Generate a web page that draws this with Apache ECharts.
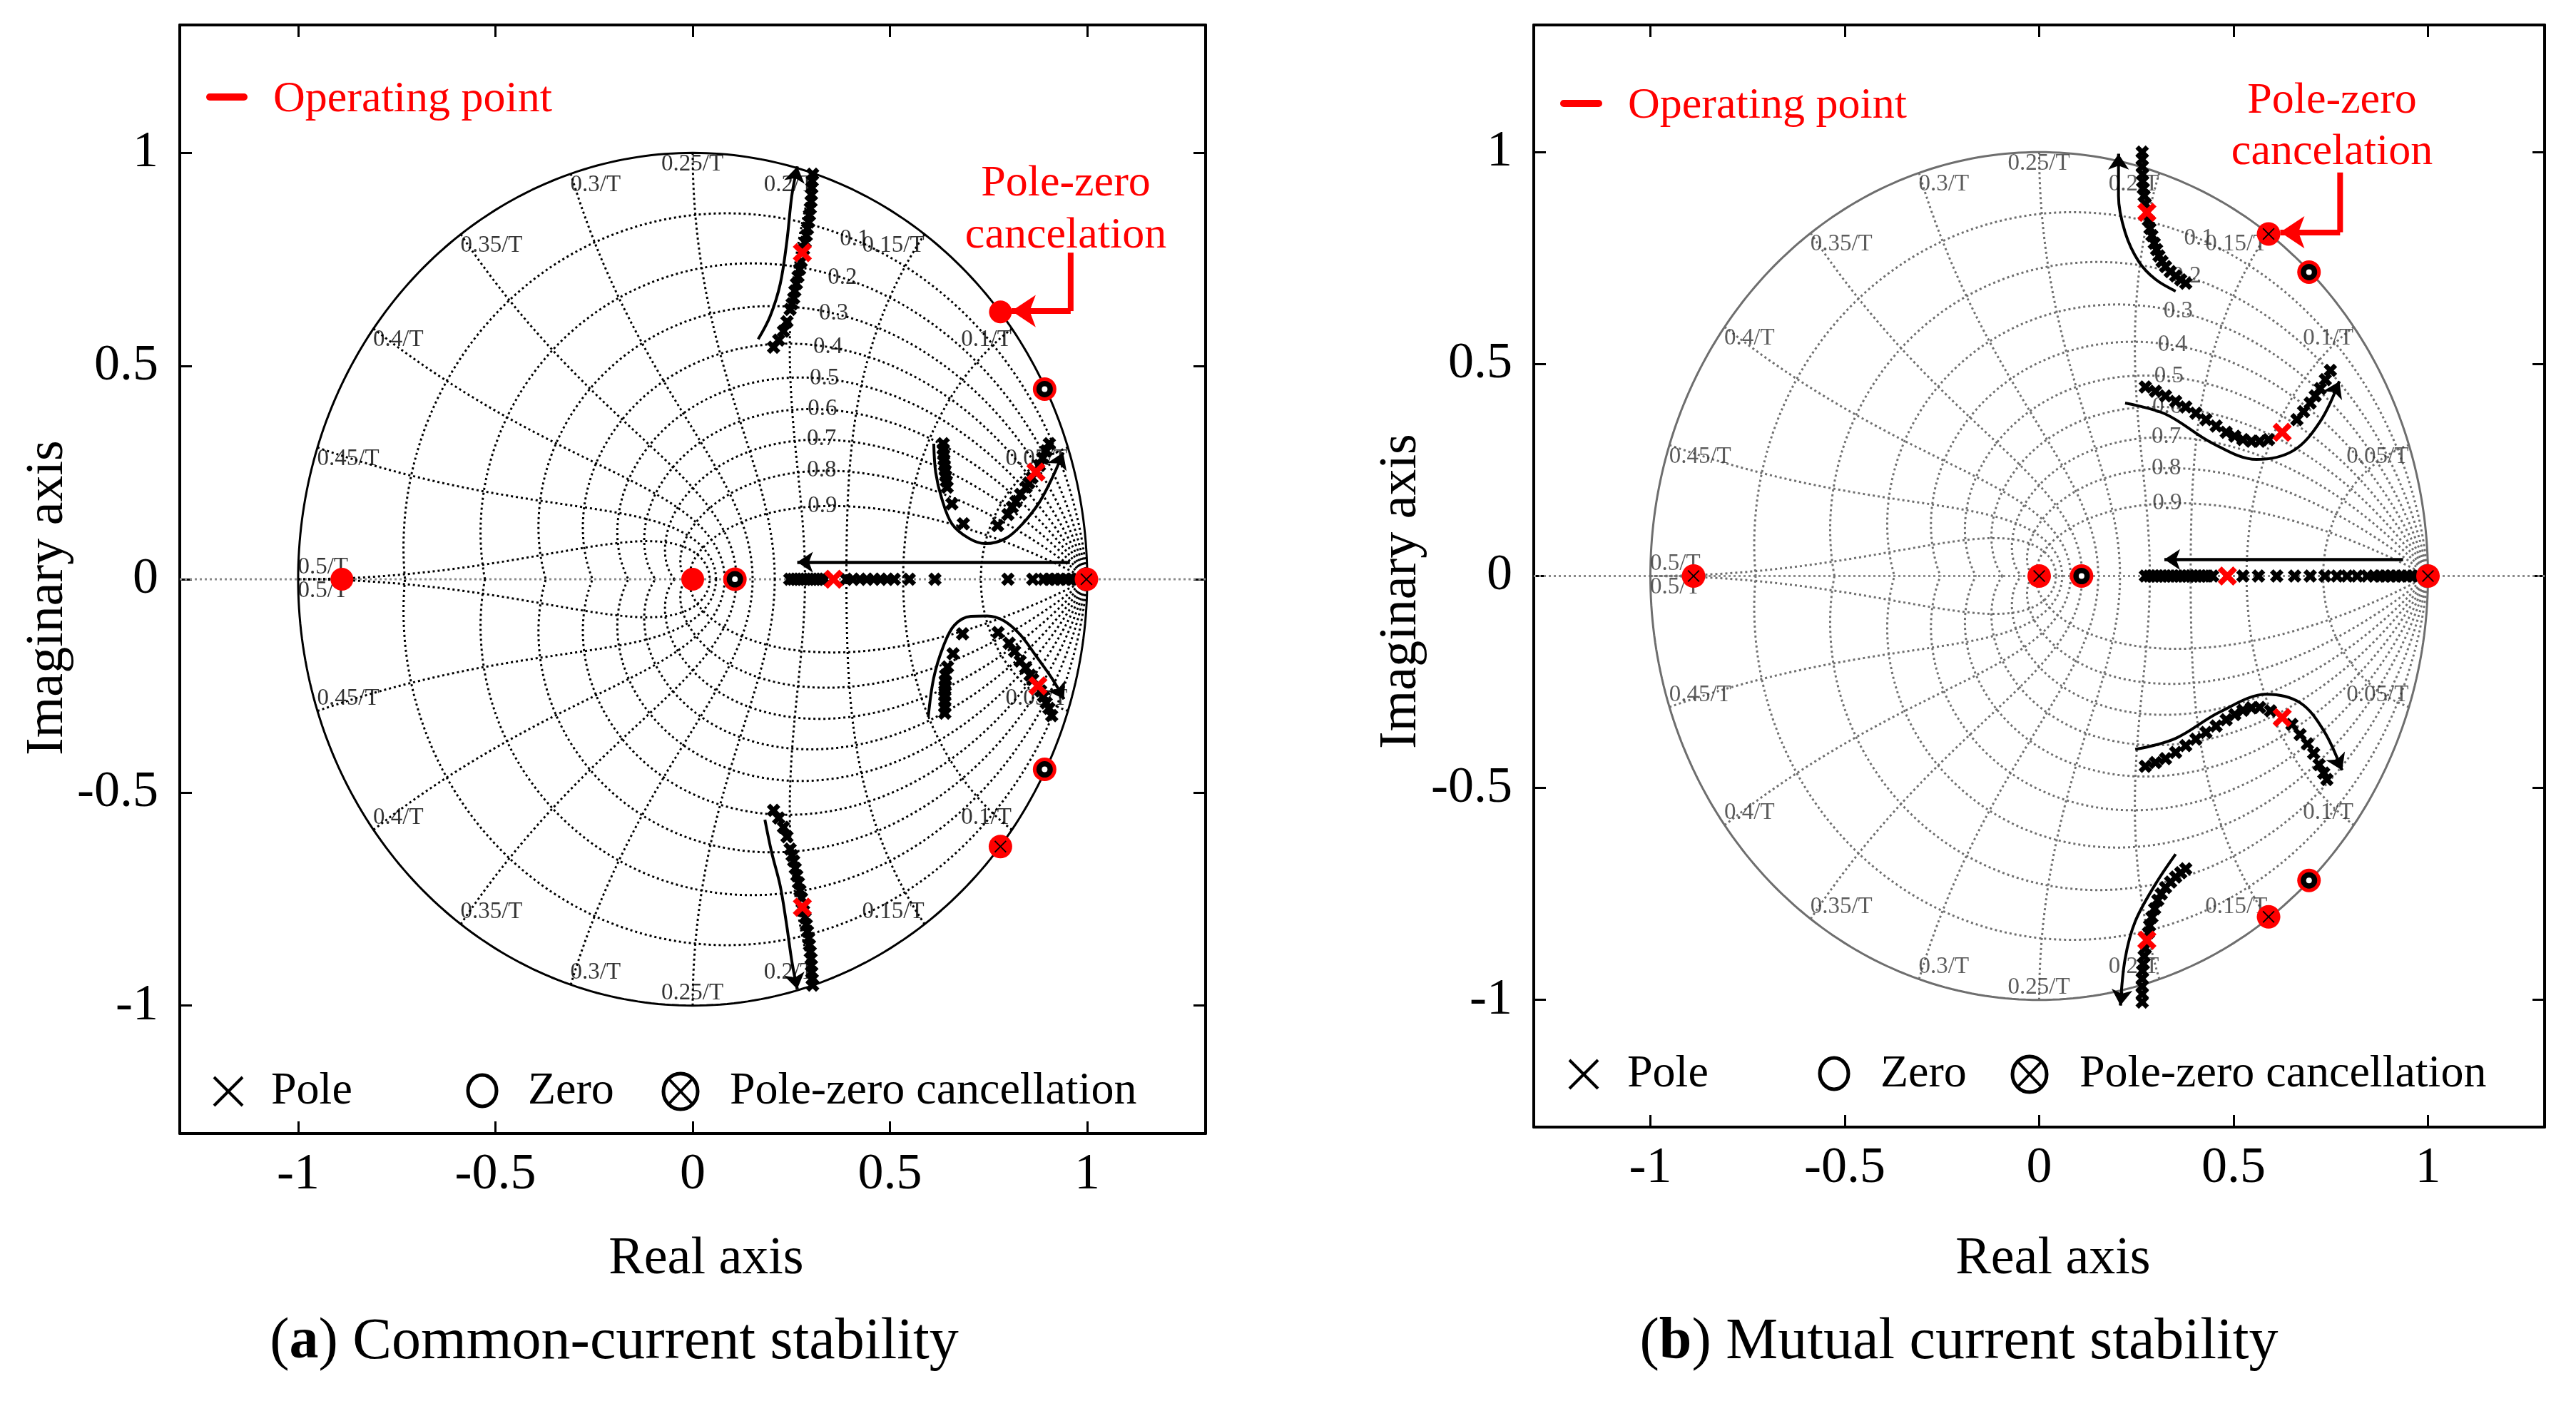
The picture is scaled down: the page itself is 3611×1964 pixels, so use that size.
<!DOCTYPE html>
<html><head><meta charset="utf-8">
<script src="https://cdn.jsdelivr.net/npm/echarts@6/dist/echarts.min.js"></script>
<style>html,body{margin:0;padding:0;background:#fff}#c{width:3611px;height:1964px}</style>
</head><body><div id="c"></div>
<script>
// ---------------- tick values & grid (zgrid) values ----------------
const xTicks = [-1, -0.5, 0, 0.5, 1];
const yTicks = [-1, -0.5, 0, 0.5, 1];
const dampTicks = [0.1, 0.2, 0.3, 0.4, 0.5, 0.6, 0.7, 0.8, 0.9];
const freqTicks = [0.05, 0.1, 0.15, 0.2, 0.25, 0.3, 0.35, 0.4, 0.45, 0.5];

// ---------------- panel (a) data ----------------
const aRealAxisPoles = [0.246,0.254,0.262,0.270,0.278,0.286,0.294,0.302,0.310,0.318,0.326,0.334,0.389,0.406,0.424,0.441,0.459,0.476,0.493,0.511,0.549,0.614,0.799,0.862,0.890,0.904,0.918,0.932,0.946,0.960,0.973,0.987];
const aUpperBranch = [[0.304,0.950],[0.303,0.934],[0.302,0.918],[0.301,0.902],[0.300,0.886],[0.298,0.870],[0.296,0.854],[0.294,0.838],[0.291,0.822],[0.288,0.806],[0.285,0.790],[0.281,0.774],[0.275,0.745],[0.271,0.727],[0.267,0.710],[0.263,0.693],[0.259,0.676],[0.256,0.659],[0.252,0.646],[0.247,0.633],[0.239,0.604],[0.230,0.582],[0.218,0.561],[0.205,0.544]];
const aLowerBranch = [[0.205,-0.542],[0.218,-0.560],[0.230,-0.582],[0.239,-0.604],[0.247,-0.633],[0.252,-0.648],[0.256,-0.661],[0.260,-0.678],[0.264,-0.695],[0.268,-0.712],[0.272,-0.730],[0.276,-0.748],[0.281,-0.778],[0.285,-0.794],[0.288,-0.810],[0.291,-0.826],[0.294,-0.842],[0.296,-0.858],[0.298,-0.874],[0.300,-0.890],[0.301,-0.906],[0.302,-0.922],[0.303,-0.938],[0.304,-0.952]];
const aUpperLoop = [[0.635,0.318],[0.635,0.305],[0.636,0.292],[0.637,0.280],[0.638,0.267],[0.640,0.255],[0.641,0.242],[0.643,0.230],[0.645,0.216],[0.657,0.177],[0.686,0.130],[0.773,0.126],[0.799,0.152],[0.810,0.169],[0.819,0.182],[0.831,0.199],[0.845,0.216],[0.852,0.226],[0.860,0.238],[0.879,0.267],[0.887,0.284],[0.896,0.301],[0.904,0.318]];
const aLowerLoop = [[0.639,-0.314],[0.639,-0.300],[0.639,-0.287],[0.639,-0.274],[0.639,-0.262],[0.640,-0.250],[0.640,-0.238],[0.641,-0.225],[0.646,-0.206],[0.660,-0.175],[0.684,-0.128],[0.774,-0.125],[0.802,-0.150],[0.816,-0.169],[0.830,-0.192],[0.844,-0.208],[0.855,-0.225],[0.862,-0.235],[0.882,-0.262],[0.889,-0.275],[0.896,-0.290],[0.903,-0.303],[0.910,-0.320]];
const aUpperPath = [[0.166,0.563],[0.196,0.616],[0.222,0.693],[0.239,0.795],[0.251,0.898],[0.265,0.968]];
const aLowerPath = [[0.183,-0.564],[0.200,-0.640],[0.222,-0.720],[0.238,-0.810],[0.252,-0.900],[0.265,-0.961]];
const aUpperLoopPath = [[0.611,0.318],[0.616,0.250],[0.631,0.190],[0.657,0.130],[0.700,0.096],[0.742,0.0835],[0.794,0.096],[0.836,0.130],[0.879,0.181],[0.913,0.241],[0.939,0.297]];
const aLowerLoopPath = [[0.597,-0.323],[0.611,-0.231],[0.635,-0.158],[0.663,-0.108],[0.705,-0.087],[0.746,-0.086],[0.788,-0.097],[0.830,-0.130],[0.871,-0.181],[0.913,-0.236],[0.941,-0.281]];
const aRealArrow = [[0.956,0.040],[0.265,0.040]];
const aOperatingPoles = [[0.357,0],[0.870,0.2515],[0.875,-0.250],[0.278,0.766],[0.278,-0.769]];
const aMarkedPoints = [[-0.889,0],[0,0],[0.780,0.627]];
const aCancellations = [[0.780,-0.627],[0.998,0]];
const aZeros = [[0.107,0],[0.892,0.446],[0.892,-0.446]];
const aCancelArrow = [[0.958,0.766],[0.958,0.629],[0.808,0.629]];

// ---------------- panel (b) data ----------------
const bRealAxisPoles = [0.273,0.283,0.293,0.303,0.313,0.323,0.333,0.343,0.353,0.363,0.373,0.383,0.393,0.403,0.413,0.423,0.433,0.446,0.524,0.564,0.611,0.657,0.697,0.735,0.766,0.792,0.818,0.844,0.862,0.876,0.890,0.904,0.918,0.932,0.946,0.960,0.974,0.988];
const bUpperBranch = [[0.265,1.000],[0.265,0.983],[0.265,0.966],[0.266,0.948],[0.266,0.931],[0.268,0.914],[0.270,0.897],[0.273,0.878],[0.281,0.839],[0.285,0.820],[0.290,0.803],[0.296,0.785],[0.302,0.770],[0.308,0.755],[0.316,0.742],[0.325,0.730],[0.337,0.718],[0.351,0.708],[0.364,0.699],[0.377,0.691]];
const bLowerBranch = [[0.377,-0.691],[0.364,-0.700],[0.351,-0.710],[0.338,-0.722],[0.325,-0.735],[0.314,-0.750],[0.305,-0.765],[0.297,-0.785],[0.290,-0.805],[0.284,-0.825],[0.281,-0.842],[0.273,-0.878],[0.270,-0.897],[0.268,-0.915],[0.266,-0.932],[0.265,-0.950],[0.265,-0.968],[0.265,-0.986],[0.265,-1.005]];
const bUpperLoop = [[0.273,0.446],[0.299,0.436],[0.325,0.425],[0.351,0.412],[0.377,0.399],[0.403,0.384],[0.429,0.369],[0.455,0.354],[0.481,0.339],[0.503,0.330],[0.524,0.322],[0.546,0.318],[0.567,0.318],[0.590,0.322],[0.663,0.369],[0.680,0.388],[0.697,0.408],[0.710,0.425],[0.723,0.442],[0.736,0.463],[0.749,0.485]];
const bLowerLoop = [[0.273,-0.449],[0.299,-0.440],[0.325,-0.431],[0.351,-0.416],[0.377,-0.400],[0.403,-0.385],[0.429,-0.369],[0.455,-0.354],[0.481,-0.339],[0.503,-0.327],[0.524,-0.317],[0.546,-0.311],[0.567,-0.310],[0.595,-0.318],[0.650,-0.350],[0.671,-0.374],[0.690,-0.396],[0.706,-0.418],[0.720,-0.445],[0.732,-0.465],[0.740,-0.480]];
const bUpperPath = [[0.351,0.672],[0.299,0.700],[0.256,0.742],[0.221,0.811],[0.204,0.897],[0.204,0.996]];
const bLowerPath = [[0.351,-0.656],[0.299,-0.727],[0.247,-0.815],[0.221,-0.903],[0.209,-1.013]];
const bUpperLoopPath = [[0.221,0.408],[0.325,0.382],[0.446,0.313],[0.559,0.275],[0.654,0.296],[0.723,0.365],[0.772,0.459]];
const bLowerLoopPath = [[0.247,-0.409],[0.351,-0.383],[0.464,-0.321],[0.585,-0.279],[0.671,-0.299],[0.732,-0.365],[0.779,-0.458]];
const bRealArrow = [[0.936,0.039],[0.322,0.039]];
const bOperatingPoles = [[0.484,0],[0.277,0.858],[0.625,0.339],[0.625,-0.334],[0.277,-0.859]];
const bMarkedPoints = [];
const bCancellations = [[-0.889,0],[0,0],[1.0,0],[0.590,0.807],[0.590,-0.804]];
const bZeros = [[0.109,0],[0.694,0.717],[0.694,-0.718]];
const bCancelArrow = [[0.774,0.952],[0.774,0.811],[0.620,0.811]];

// ---------------- rendering ----------------
const FONT = "'Liberation Serif','Times New Roman',serif";
const RED = '#ff0000';
const XTHICK = 'path://M5,0 L10,5 L15,0 L20,5 L15,10 L20,15 L15,20 L10,15 L5,20 L0,15 L5,10 L0,5 Z';
const XRED = 'path://M4,0 L10,6 L16,0 L20,4 L14,10 L20,16 L16,20 L10,14 L4,20 L0,16 L6,10 L0,4 Z';
const XTHIN = 'path://M1.5,0 L10,8.5 L18.5,0 L20,1.5 L11.5,10 L20,18.5 L18.5,20 L10,11.5 L1.5,20 L0,18.5 L8.5,10 L0,1.5 Z';

const series = [];
function base(p) { return {xAxisIndex: p*2, yAxisIndex: p*2, silent: true, animation: false}; }
function lineS(p, data, style, z, smooth) {
  series.push(Object.assign(base(p), {type:'line', data, showSymbol:false, symbol:'none', smooth: smooth || false, lineStyle: style, z: z}));
}
function scatterS(p, data, symbol, size, color, z) {
  series.push(Object.assign(base(p), {type:'scatter', data, symbol, symbolSize: size, itemStyle:{color, opacity:1}, z: z}));
}
function arrowS(p, from, to, color, width, size, z) {
  series.push(Object.assign(base(p), {type:'lines', coordinateSystem:'cartesian2d', polyline:false,
    symbol:['none','arrow'], symbolSize: size, lineStyle:{color, width, opacity:1, curveness:0},
    data:[{coords:[from, to]}], z: z}));
}
function zgrid(p, gridColor, circleColor, labelColor) {
  lineS(p, [[-1.3,0],[1.3,0]], {color:'#8a8a8a', width:3, type:[3,4]}, 1);
  const circ = [];
  for (let i = 0; i <= 360; i++) { const t = i*Math.PI/180; circ.push([Math.cos(t), Math.sin(t)]); }
  lineS(p, circ, {color: circleColor, width: 3, type:'solid'}, 1);
  const gs = {color: gridColor, width: 3, type:[3,4]};
  dampTicks.forEach(zeta => {
    const m = zeta/Math.sqrt(1 - zeta*zeta), up = [], lo = [];
    for (let i = 0; i <= 240; i++) { const th = Math.PI*i/240, r = Math.exp(-m*th); up.push([r*Math.cos(th), r*Math.sin(th)]); lo.push([r*Math.cos(th), -r*Math.sin(th)]); }
    lineS(p, up, gs, 1);
    lineS(p, lo, gs, 1);
  });
  freqTicks.forEach(f => {
    const wn = 2*Math.PI*f, up = [], lo = [];
    for (let i = 0; i <= 160; i++) { const t = (Math.PI/2)*i/160, r = Math.exp(-wn*Math.sin(t)), a = wn*Math.cos(t); up.push([r*Math.cos(a), r*Math.sin(a)]); lo.push([r*Math.cos(a), -r*Math.sin(a)]); }
    lineS(p, up, gs, 1);
    lineS(p, lo, gs, 1);
  });
  const data = [];
  freqTicks.forEach((f, i) => {
    const k = i + 1, a = 2*Math.PI*f, x = Math.cos(a), y = Math.sin(a);
    const align = k < 5 ? 'right' : (k === 5 ? 'center' : 'left');
    data.push({value:[x, y], name: f + '/T', label:{align, verticalAlign: k === 10 ? 'bottom' : 'top'}});
    data.push({value:[x, -y], name: f + '/T', label:{align, verticalAlign: k === 10 ? 'top' : 'bottom'}});
  });
  dampTicks.forEach(zeta => {
    const w = 0.35*Math.PI, r = Math.exp(-w*zeta), a = w*Math.sqrt(1 - zeta*zeta);
    data.push({value:[r*Math.cos(a), r*Math.sin(a)], name: String(zeta), label:{align:'center', verticalAlign:'middle'}});
  });
  series.push(Object.assign(base(p), {type:'scatter', data, symbol:'circle', symbolSize:1, itemStyle:{color:'rgba(0,0,0,0)'},
    label:{show:true, position:[0,0], formatter:'{b}', fontSize:33, fontFamily:FONT, color: labelColor}, z: 2}));
}
function pathWithArrow(p, path) {
  lineS(p, path, {color:'#000', width:4, type:'solid'}, 3, 0.35);
  const n = path.length, a = path[n-2], b = path[n-1];
  const from = [a[0] + 0.7*(b[0]-a[0]), a[1] + 0.7*(b[1]-a[1])];
  arrowS(p, from, b, '#000', 4, 22, 3);
}
function panel(p, D, gridColor, circleColor, labelColor) {
  zgrid(p, gridColor, circleColor, labelColor);
  D.paths.forEach(path => pathWithArrow(p, path));
  arrowS(p, D.realArrow[0], D.realArrow[1], '#000', 4.5, 22, 3);
  const blackX = D.realPoles.map(x => [x, 0]).concat(D.branches.flat());
  scatterS(p, blackX, XTHICK, 19, '#000', 4);
  scatterS(p, D.marked, 'circle', 32, RED, 5);
  scatterS(p, D.cancel, 'circle', 33, RED, 5);
  scatterS(p, D.cancel, XTHIN, 17, '#000', 6);
  scatterS(p, D.zeros, 'circle', 33, RED, 5);
  scatterS(p, D.zeros, 'circle', 23, '#000', 6);
  scatterS(p, D.zeros, 'circle', 8, '#fff', 7);
  scatterS(p, D.poles, XRED, 27, RED, 8);
  lineS(p, D.cancelArrow.slice(0, 2), {color: RED, width: 8, type:'solid'}, 9);
  arrowS(p, D.cancelArrow[1], D.cancelArrow[2], RED, 8, 34, 9);
}
panel(0, {realPoles: aRealAxisPoles, branches:[aUpperBranch, aLowerBranch, aUpperLoop, aLowerLoop],
  paths:[aUpperPath, aLowerPath, aUpperLoopPath, aLowerLoopPath], realArrow: aRealArrow,
  poles: aOperatingPoles, marked: aMarkedPoints, cancel: aCancellations, zeros: aZeros, cancelArrow: aCancelArrow},
  '#000', '#000', '#000');
panel(1, {realPoles: bRealAxisPoles, branches:[bUpperBranch, bLowerBranch, bUpperLoop, bLowerLoop],
  paths:[bUpperPath, bLowerPath, bUpperLoopPath, bLowerLoopPath], realArrow: bRealArrow,
  poles: bOperatingPoles, marked: bMarkedPoints, cancel: bCancellations, zeros: bZeros, cancelArrow: bCancelArrow},
  '#6f6f6f', '#6e6e6e', '#333');

function xAx(gi, pos, lab) {
  return {type:'value', gridIndex: gi, position: pos, min:-1.3, max:1.3,
    axisLine:{show:true, onZero:false, lineStyle:{color:'#000', width:4}},
    axisTick:{show:true, inside:true, length:17, lineStyle:{color:'#000', width:3}, customValues: xTicks},
    axisLabel:{show: lab, customValues: xTicks, fontSize:72, fontFamily:FONT, color:'#000', margin:22, formatter: v => String(v)},
    splitLine:{show:false}};
}
function yAx(gi, pos, lab) {
  return {type:'value', gridIndex: gi, position: pos, min:-1.3, max:1.3,
    axisLine:{show:true, onZero:false, lineStyle:{color:'#000', width:4}},
    axisTick:{show:true, inside:true, length:17, lineStyle:{color:'#000', width:3}, customValues: yTicks},
    axisLabel:{show: lab, customValues: yTicks, fontSize:72, fontFamily:FONT, color:'#000', margin:30, formatter: v => String(v)},
    splitLine:{show:false}};
}

function txt(x, y, text, size, color, align, extra) {
  return Object.assign({type:'text', x, y, silent:true, style:{text, fontSize:size, fontFamily:FONT, fill:color, align: align || 'center', verticalAlign:'middle'}}, extra || {});
}
function legendBottom(o) {
  const y = o.y, els = [];
  els.push({type:'line', shape:{x1:o.px-20, y1:y-20, x2:o.px+20, y2:y+20}, style:{stroke:'#000', lineWidth:4}});
  els.push({type:'line', shape:{x1:o.px-20, y1:y+20, x2:o.px+20, y2:y-20}, style:{stroke:'#000', lineWidth:4}});
  els.push(txt(o.pt, y, 'Pole', 64, '#000', 'left'));
  els.push({type:'ellipse', shape:{cx:o.zx, cy:y-1, rx:20, ry:22}, style:{stroke:'#000', fill:'none', lineWidth:5}});
  els.push(txt(o.zt, y, 'Zero', 64, '#000', 'left'));
  els.push({type:'ellipse', shape:{cx:o.cx, cy:y, rx:24, ry:25}, style:{stroke:'#000', fill:'none', lineWidth:5}});
  els.push({type:'line', shape:{x1:o.cx-16, y1:y-17, x2:o.cx+16, y2:y+17}, style:{stroke:'#000', lineWidth:4}});
  els.push({type:'line', shape:{x1:o.cx-16, y1:y+17, x2:o.cx+16, y2:y-17}, style:{stroke:'#000', lineWidth:4}});
  els.push(txt(o.ct, y, 'Pole-zero cancellation', 64, '#000', 'left'));
  return els;
}
const graphic = [].concat(
  [
    {type:'line', shape:{x1:294, y1:136, x2:342, y2:136}, style:{stroke:RED, lineWidth:10, lineCap:'round'}},
    txt(383, 140, 'Operating point', 62, RED, 'left'),
    {type:'line', shape:{x1:2192, y1:145, x2:2241, y2:145}, style:{stroke:RED, lineWidth:10, lineCap:'round'}},
    txt(2282, 149, 'Operating point', 62, RED, 'left'),
    txt(1494, 258, 'Pole-zero', 62, RED),
    txt(1494, 331, 'cancelation', 62, RED),
    txt(3269, 142, 'Pole-zero', 62, RED),
    txt(3269, 214, 'cancelation', 62, RED),
    txt(990, 1766, 'Real axis', 74, '#000'),
    txt(2878, 1766, 'Real axis', 74, '#000'),
    txt(68, 838, 'Imaginary axis', 74, '#000', 'center', {rotation: Math.PI/2}),
    txt(1965, 829, 'Imaginary axis', 74, '#000', 'center', {rotation: Math.PI/2}),
    {type:'text', x:861, y:1882, silent:true, style:{text:'{n|(}{b|a}{n|) Common-current stability}', align:'center', verticalAlign:'middle',
      rich:{n:{fontSize:82, fontFamily:FONT, fill:'#000'}, b:{fontSize:82, fontFamily:FONT, fontWeight:'bold', fill:'#000'}}}},
    {type:'text', x:2746, y:1882, silent:true, style:{text:'{n|(}{b|b}{n|) Mutual current stability}', align:'center', verticalAlign:'middle',
      rich:{n:{fontSize:82, fontFamily:FONT, fill:'#000'}, b:{fontSize:82, fontFamily:FONT, fontWeight:'bold', fill:'#000'}}}}
  ],
  legendBottom({y:1530, px:320, pt:380, zx:676, zt:740, cx:954, ct:1023}),
  legendBottom({y:1506, px:2220, pt:2281, zx:2571, zt:2636, cx:2845, ct:2915})
);

const chart = echarts.init(document.getElementById('c'), null, {renderer:'canvas'});
chart.setOption({
  backgroundColor:'#fff',
  animation:false,
  grid:[
    {left:252, top:35, width:1438, height:1554, containLabel:false, outerBoundsMode:'none'},
    {left:2150, top:35, width:1417, height:1545, containLabel:false, outerBoundsMode:'none'}
  ],
  xAxis:[xAx(0,'bottom',true), xAx(0,'top',false), xAx(1,'bottom',true), xAx(1,'top',false)],
  yAxis:[yAx(0,'left',true), yAx(0,'right',false), yAx(1,'left',true), yAx(1,'right',false)],
  series,
  graphic
});
</script></body></html>
